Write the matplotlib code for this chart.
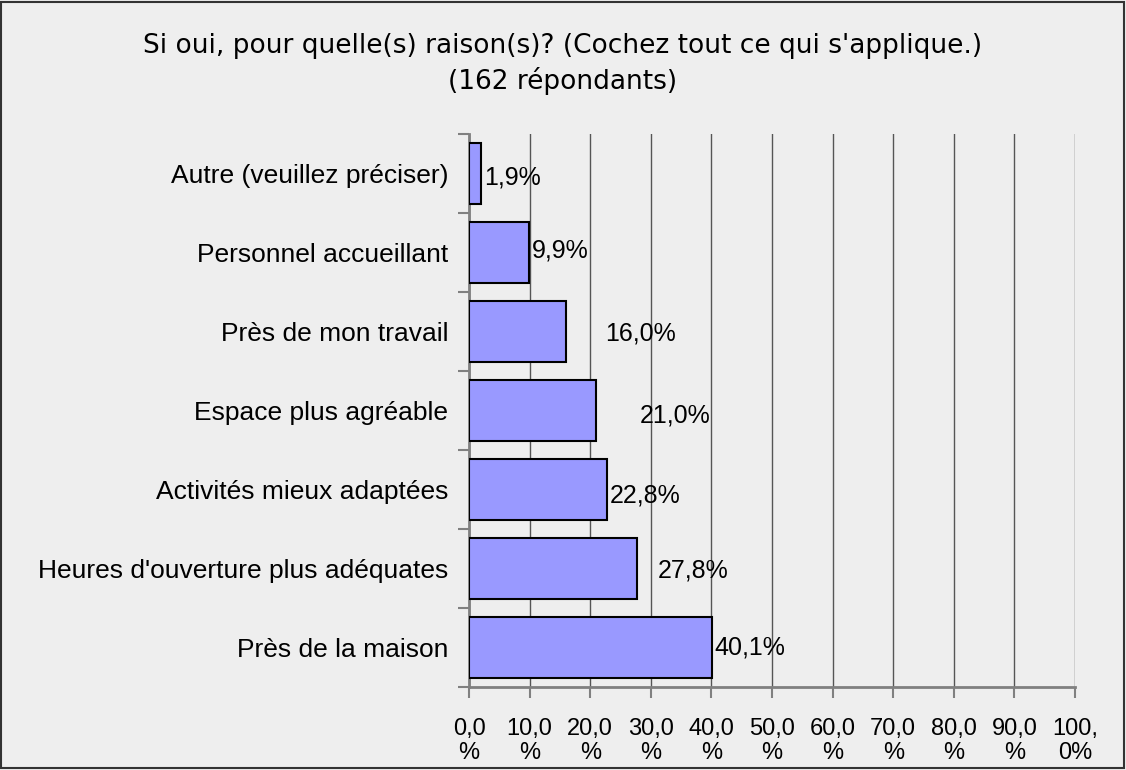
import matplotlib
matplotlib.use("Agg")
import matplotlib.pyplot as plt
from matplotlib.patches import Rectangle
from matplotlib.ticker import FixedLocator

plt.rcParams["font.family"] = ["Liberation Sans", "DejaVu Sans"]

categories = ["Près de la maison", "Heures d'ouverture plus adéquates",
              "Activités mieux adaptées", "Espace plus agréable",
              "Près de mon travail", "Personnel accueillant",
              "Autre (veuillez préciser)"]
values = [40.1, 27.8, 22.8, 21.0, 16.0, 9.9, 1.9]
value_labels = ["40,1%", "27,8%", "22,8%", "21,0%", "16,0%", "9,9%", "1,9%"]
xticks = [0, 10, 20, 30, 40, 50, 60, 70, 80, 90, 100]
xtick_labels = ["0,0\n%", "10,0\n%", "20,0\n%", "30,0\n%", "40,0\n%", "50,0\n%",
                "60,0\n%", "70,0\n%", "80,0\n%", "90,0\n%", "100,\n0%"]
title = "Si oui, pour quelle(s) raison(s)? (Cochez tout ce qui s'applique.)\n(162 répondants)"

# label offsets (pixels) as placed in the original export
lab_dx = [2, 20, 3, 43, 39, 3, 4]
lab_dy = [0, -2, -6, -5, -2, 2, -4]

BG = "#EEEEEE"
fig = plt.figure(figsize=(11.26, 7.7), dpi=100, facecolor=BG)
ax = fig.add_axes([469/1126, 1-687/770, (1075-469)/1126, (687-134)/770])
ax.set_facecolor(BG)

y = list(range(len(categories)))
ax.barh(y, values, height=0.77, color="#9999FF", edgecolor="black", lw=1.5, zorder=3)
for yi, v, s, dx, dy in zip(y, values, value_labels, lab_dx, lab_dy):
    ax.annotate(s, (v, yi), xytext=(dx * 0.72, dy * 0.72), textcoords="offset points",
                ha="left", va="center", fontsize=18, zorder=4)

ax.set_xlim(0, 100)
ax.set_ylim(-0.5, len(categories) - 0.5)
ax.set_xticks(xticks)
ax.set_xticklabels(xtick_labels, fontsize=17, linespacing=1.15)
ax.set_yticks(y)
ax.set_yticklabels(categories, fontsize=19)
ax.tick_params(axis="y", length=0, pad=15)
ax.yaxis.set_minor_locator(FixedLocator([i - 0.5 for i in range(len(categories) + 1)]))
ax.tick_params(axis="y", which="minor", length=8, width=1.5, color="#808080")
ax.tick_params(axis="x", length=8, width=1.5, color="#808080", pad=14)
ax.xaxis.grid(True, color="#555555", lw=1, zorder=0)
ax.set_axisbelow(True)
for sp in ["top", "right"]:
    ax.spines[sp].set_visible(False)
for sp in ["left", "bottom"]:
    ax.spines[sp].set_color("#808080")
    ax.spines[sp].set_linewidth(2)

fig.text(0.5, 1-64/770, title, ha="center", va="center", fontsize=19,
         family=["DejaVu Sans"], linespacing=1.4)
fig.patches.append(Rectangle((0.001, 0.002), 0.997, 0.996, transform=fig.transFigure,
                             fill=False, edgecolor="#333333", lw=1.5))
fig.savefig("out.png", dpi=100, facecolor=BG)
